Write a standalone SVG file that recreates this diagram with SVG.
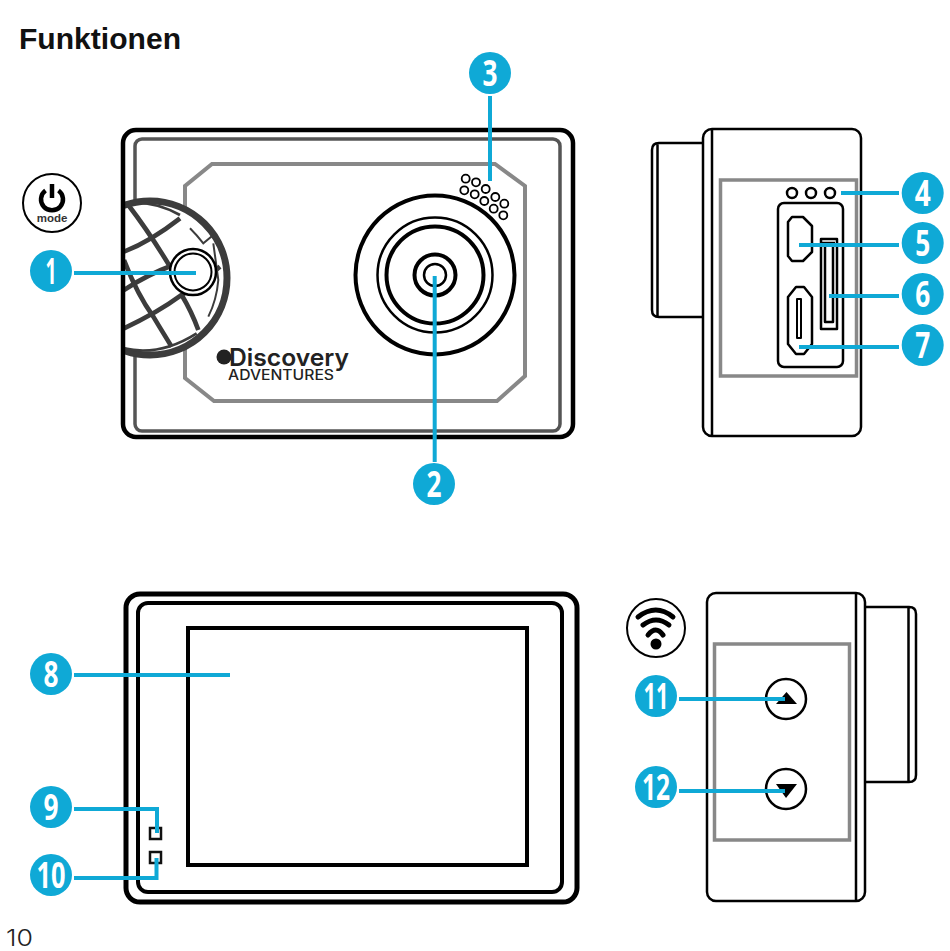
<svg xmlns="http://www.w3.org/2000/svg" width="950" height="951" viewBox="0 0 950 951">
<style>
.k{fill:none;stroke:#000;stroke-width:2.5;stroke-linejoin:round}
.t{fill:none;stroke:#000;stroke-width:4;stroke-linejoin:round}
.g{fill:none;stroke:#888;stroke-width:4}
.ball{fill:none;stroke:#3c3c3c;stroke-width:14;stroke-linecap:butt}
.c{fill:none;stroke:#0fa9d6;stroke-width:4}
.b{fill:#0fa9d6}
.n{font-family:"Open Sans","Liberation Sans",sans-serif;font-weight:700;font-size:36px;fill:#fff;text-anchor:middle}
.s{fill:none;stroke:#000;stroke-width:1.8}
</style>
<defs>
<clipPath id="ballClip"><rect x="124" y="190" width="120" height="180"/></clipPath>
</defs>
<rect width="950" height="951" fill="#fff"/>
<text x="19" y="49" font-family="Liberation Sans, Arial, sans-serif" font-weight="700" font-size="30" textLength="162" lengthAdjust="spacingAndGlyphs" fill="#111">Funktionen</text>
<text x="6" y="946" font-family="Inter, Liberation Sans, sans-serif" font-weight="300" font-size="23" textLength="27" lengthAdjust="spacingAndGlyphs" fill="#222">10</text>

<g id="camera-front">
<rect x="135" y="139" width="425" height="292" rx="7" fill="none" stroke="#555" stroke-width="3.5"/>
<path class="g" d="M212 164H495L525 186V376L497 401H214L185 378V186Z"/>
<g clip-path="url(#ballClip)">
<circle cx="150" cy="278" r="77" fill="#fff" stroke="#3c3c3c" stroke-width="7"/>
<g transform="translate(0 120) scale(.3333)">
<path class="ball" d="M372 395Q450 365 540 295"/>
<path class="ball" d="M372 510Q440 465 520 435"/>
<path class="ball" d="M372 625Q470 580 545 525Q600 490 660 440"/>
<path class="ball" d="M385 255Q450 340 510 440"/>
<path class="ball" d="M372 420Q410 520 460 590Q490 640 515 680"/>
<path class="ball" d="M545 525Q575 575 595 630"/>
<path d="M372 250Q460 240 540 285" fill="none" stroke="#3c3c3c" stroke-width="8"/>
<path d="M372 685Q480 710 590 640" fill="none" stroke="#3c3c3c" stroke-width="8"/>
<path d="M570 325Q590 345 610 370L640 345M640 370L655 480Q650 540 625 590" fill="none" stroke="#3c3c3c" stroke-width="6"/>
</g>
</g>
<rect x="123" y="130" width="450" height="307" rx="13" class="t" style="stroke-width:4.5"/>
<circle id="shutter" cx="193" cy="272" r="23" fill="#fff" stroke="#000" stroke-width="2.5"/>
<circle cx="193" cy="272" r="18.5" fill="#fff" stroke="#000" stroke-width="2"/>
<g id="speaker" class="s">
<circle cx="465.7" cy="178.7" r="4"/><circle cx="476" cy="182.3" r="4"/><circle cx="485.7" cy="189" r="4"/><circle cx="495.3" cy="197" r="4"/><circle cx="504.3" cy="203.7" r="4"/>
<circle cx="464.3" cy="190.3" r="4"/><circle cx="474.7" cy="194.3" r="4"/><circle cx="484.3" cy="201" r="4"/><circle cx="493.7" cy="208.7" r="4"/><circle cx="503.3" cy="215.3" r="4"/>
</g>
<g id="lens" fill="none" stroke="#000">
<circle cx="435" cy="275" r="79.5" stroke-width="4"/>
<circle cx="435" cy="275" r="57.5" stroke-width="2.5"/>
<circle cx="435" cy="275" r="48.5" stroke-width="4"/>
<circle cx="435" cy="275" r="20.5" stroke-width="4"/>
<circle cx="435" cy="275" r="11" stroke-width="2.5"/>
</g>
<g id="logo" fill="#222">
<circle cx="224" cy="357" r="7.5"/>
<text x="229" y="366" font-family="Inter, Liberation Sans, sans-serif" font-weight="600" font-size="24" textLength="120" lengthAdjust="spacingAndGlyphs">Discovery</text>
<text x="228" y="380" font-family="Inter, Liberation Sans, sans-serif" font-weight="500" font-size="14" textLength="106" lengthAdjust="spacingAndGlyphs">ADVENTURES</text>
</g>
</g>

<g id="power-icon">
<circle cx="52" cy="203" r="29" fill="#fff" stroke="#000" stroke-width="2"/>
<path d="M45.500 190.500A11 11 0 1 0 58.500 190.500" fill="none" stroke="#000" stroke-width="4.500"/>
<path d="M52 184V198" stroke="#000" stroke-width="4.500"/>
<text x="52" y="222" text-anchor="middle" font-family="Liberation Sans, sans-serif" font-weight="700" font-size="11.500" fill="#333">mode</text>
</g>

<g id="camera-side-ports">
<rect x="703" y="129" width="158" height="307" rx="9" class="k"/>
<path class="k" d="M712 129V436"/>
<path class="k" d="M703 143H659Q652 143 652 150V310Q652 317 659 317H703M657.500 143V317"/>
<rect x="720.500" y="180" width="136" height="196" fill="none" stroke="#888" stroke-width="3.500"/>
<circle cx="792" cy="193" r="5" class="k"/><circle cx="811" cy="193" r="5" class="k"/><circle cx="830" cy="193" r="5" class="k"/>
<rect x="778" y="203" width="65" height="164" rx="6" class="k"/>
<path class="k" d="M788 222L792 217H803L812 226V252L803 261H792L788 256Z"/>
<path class="k" d="M788 297L796 287H804L812 297V344L804 354H796L788 344Z"/>
<rect x="797" y="299" width="4" height="39" class="k" style="stroke-width:2"/>
<rect x="821" y="239" width="16" height="90" class="k"/>
<path class="k" d="M821 243H835M825 243V322H833V243"/>
</g>

<g id="camera-back">
<rect x="126" y="594" width="451" height="308" rx="14" class="t" style="stroke-width:5"/>
<rect x="138" y="603" width="424" height="289" rx="10" class="t"/>
<rect x="188" y="628" width="339" height="237" fill="none" stroke="#000" stroke-width="4"/>
<rect x="150" y="828" width="11" height="11" fill="none" stroke="#111" stroke-width="2.500"/>
<rect x="150" y="852" width="11" height="11" fill="none" stroke="#111" stroke-width="2.500"/>
</g>

<g id="wifi-icon">
<circle cx="656" cy="628" r="29" fill="#fff" stroke="#000" stroke-width="2"/>
<path d="M638 617Q656 603 673 617M643 625Q656 615 669 625M648 635Q656 625 663 635" fill="none" stroke="#000" stroke-width="5" stroke-linecap="round"/>
<circle cx="656" cy="644" r="5.500"/>
</g>

<g id="camera-side-buttons">
<rect x="707" y="593" width="158" height="308" rx="9" class="k"/>
<path class="k" d="M856 593V901"/>
<path class="k" d="M865 607H909Q916 607 916 614V775Q916 782 909 782H865M908.500 607V782"/>
<rect x="714.500" y="644" width="135" height="196" fill="none" stroke="#888" stroke-width="3.500"/>
<circle cx="786" cy="699" r="20" class="k"/>
<circle cx="786" cy="789" r="20" class="k"/>
<path d="M776 704H797L786.500 692Z"/>
<path d="M776 784H797L786 798Z"/>
</g>

<g id="connectors" class="c">
<path d="M74 273H196"/>
<path d="M434.700 276V462"/>
<path d="M490 96V181"/>
<path d="M841 193H899"/>
<path d="M799 245H899"/>
<path d="M829 296H899"/>
<path d="M799 347H899"/>
<path d="M74 675H230"/>
<path d="M74 809H157V833"/>
<path d="M74 878H156.500V858"/>
<path d="M679 699H785"/>
<path d="M679 791H785"/>
</g>

<g id="badge-1"><circle class="b" cx="51" cy="271" r="21"/><text class="n" x="51" y="284" textLength="11" lengthAdjust="spacingAndGlyphs">1</text></g>
<g id="badge-2"><circle class="b" cx="434" cy="484" r="21"/><text class="n" x="434" y="497" textLength="15" lengthAdjust="spacingAndGlyphs">2</text></g>
<g id="badge-3"><circle class="b" cx="490" cy="73" r="21"/><text class="n" x="490" y="86" textLength="15" lengthAdjust="spacingAndGlyphs">3</text></g>
<g id="badge-4"><circle class="b" cx="922.700" cy="193" r="21"/><text class="n" x="922.700" y="206" textLength="16" lengthAdjust="spacingAndGlyphs">4</text></g>
<g id="badge-5"><circle class="b" cx="922.700" cy="243" r="21"/><text class="n" x="922.700" y="256" textLength="15" lengthAdjust="spacingAndGlyphs">5</text></g>
<g id="badge-6"><circle class="b" cx="922.700" cy="294" r="21"/><text class="n" x="922.700" y="307" textLength="15" lengthAdjust="spacingAndGlyphs">6</text></g>
<g id="badge-7"><circle class="b" cx="922.700" cy="345" r="21"/><text class="n" x="922.700" y="358" textLength="15" lengthAdjust="spacingAndGlyphs">7</text></g>
<g id="badge-8"><circle class="b" cx="51" cy="674" r="21"/><text class="n" x="51" y="687" textLength="15" lengthAdjust="spacingAndGlyphs">8</text></g>
<g id="badge-9"><circle class="b" cx="51" cy="807" r="21"/><text class="n" x="51" y="820" textLength="15" lengthAdjust="spacingAndGlyphs">9</text></g>
<g id="badge-10"><circle class="b" cx="51" cy="875" r="21"/><text class="n" x="51" y="888" textLength="29" lengthAdjust="spacingAndGlyphs">10</text></g>
<g id="badge-11"><circle class="b" cx="656" cy="696" r="21"/><text class="n" x="656" y="709" textLength="25" lengthAdjust="spacingAndGlyphs">11</text></g>
<g id="badge-12"><circle class="b" cx="656" cy="787" r="21"/><text class="n" x="656" y="800" textLength="28" lengthAdjust="spacingAndGlyphs">12</text></g>
</svg>
